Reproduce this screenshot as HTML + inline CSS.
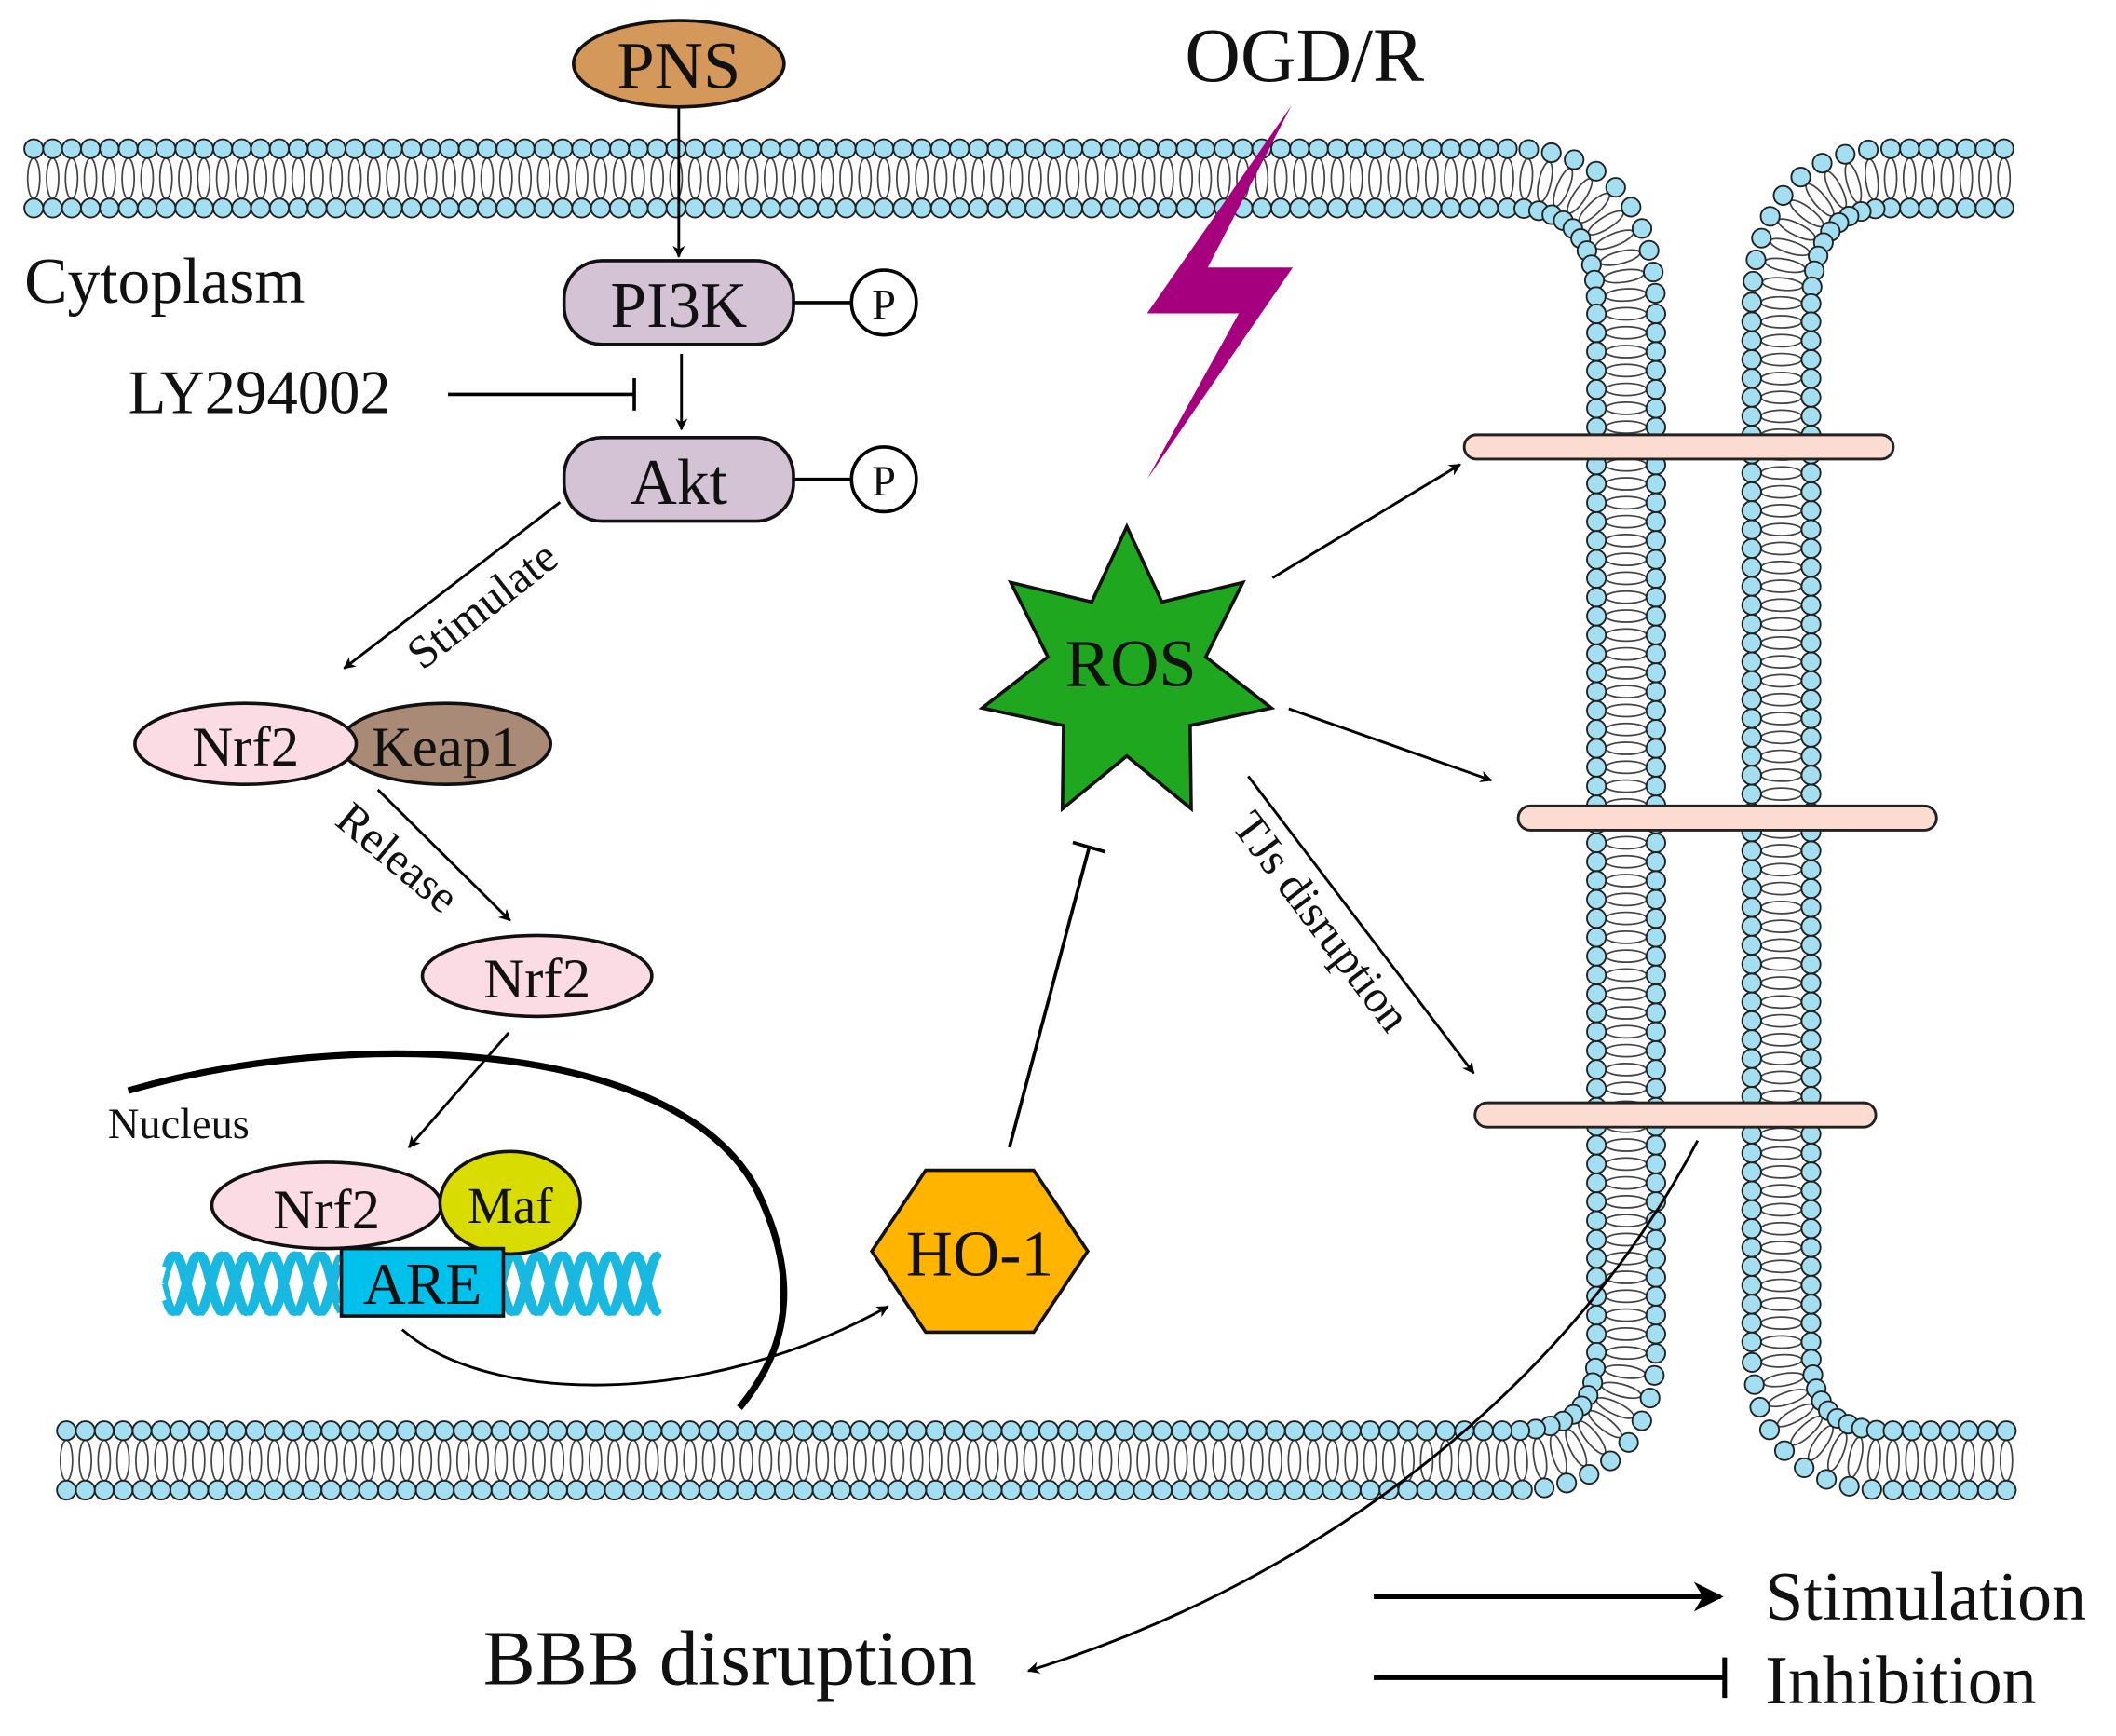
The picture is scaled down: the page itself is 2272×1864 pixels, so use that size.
<!DOCTYPE html>
<html><head><meta charset="utf-8"><style>
html,body{margin:0;padding:0;background:#fff;}
svg{display:block;}
text{font-family:"Liberation Serif",serif;fill:#111;}
</style></head><body>
<svg id="s" width="2272" height="1864" viewBox="0 0 1568 1286" xmlns="http://www.w3.org/2000/svg">
<defs>
<marker id="ar" viewBox="0 0 10 10" refX="9" refY="5" markerWidth="9" markerHeight="9" markerUnits="userSpaceOnUse" orient="auto"><path d="M0,0 L10,5 L0,10 L3,5 z" fill="#000"/></marker>
<marker id="ar2" viewBox="0 0 10 10" refX="9" refY="5" markerWidth="22" markerHeight="22" markerUnits="userSpaceOnUse" orient="auto"><path d="M0,0 L10,5 L0,10 L3,5 z" fill="#000"/></marker>
</defs>
<g id="mem"></g>
<rect x="1085" y="322" width="318" height="18" rx="9" fill="#fcdcd0" stroke="#222" stroke-width="2"/>
<rect x="1125" y="597" width="310" height="18" rx="9" fill="#fcdcd0" stroke="#222" stroke-width="2"/>
<rect x="1093" y="817" width="297" height="18" rx="9" fill="#fcdcd0" stroke="#222" stroke-width="2"/>

<text x="878" y="60" font-size="57">OGD/R</text>
<polygon points="957,78 850,232 918,232 850,355 958,198 895,198" fill="#a6007f"/>

<ellipse cx="503" cy="47" rx="78" ry="32" fill="#d4985a" stroke="#111" stroke-width="2.5"/>
<text x="503" y="65" font-size="50" text-anchor="middle">PNS</text>
<line x1="503" y1="80" x2="503" y2="190" stroke="#000" stroke-width="2" marker-end="url(#ar)"/>

<text x="18" y="224" font-size="48">Cytoplasm</text>

<rect x="418" y="193" width="170" height="62" rx="28" fill="#d4c3d4" stroke="#111" stroke-width="2.5"/>
<text x="503" y="242" font-size="48" text-anchor="middle">PI3K</text>
<line x1="588" y1="224" x2="631" y2="224" stroke="#000" stroke-width="2.5"/>
<circle cx="655" cy="224" r="24" fill="#fff" stroke="#000" stroke-width="2.5"/>
<text x="655" y="236" font-size="32" text-anchor="middle">P</text>

<text x="95" y="306" font-size="46">LY294002</text>
<line x1="332" y1="292" x2="470" y2="292" stroke="#000" stroke-width="2.5"/>
<line x1="470" y1="280" x2="470" y2="304" stroke="#000" stroke-width="2.5"/>
<line x1="505" y1="262" x2="505" y2="318" stroke="#000" stroke-width="2" marker-end="url(#ar)"/>

<rect x="418" y="324" width="170" height="62" rx="28" fill="#d4c3d4" stroke="#111" stroke-width="2.5"/>
<text x="503" y="373" font-size="48" text-anchor="middle">Akt</text>
<line x1="588" y1="355" x2="631" y2="355" stroke="#000" stroke-width="2.5"/>
<circle cx="655" cy="355" r="24" fill="#fff" stroke="#000" stroke-width="2.5"/>
<text x="655" y="367" font-size="32" text-anchor="middle">P</text>

<line x1="415" y1="372" x2="255" y2="495" stroke="#000" stroke-width="2" marker-end="url(#ar)"/>
<text x="0" y="0" font-size="34" transform="translate(313,497) rotate(-38)">Stimulate</text>

<ellipse cx="330" cy="551" rx="78" ry="30" fill="#a88a76" stroke="#111" stroke-width="2.5"/>
<ellipse cx="182" cy="551" rx="82" ry="30" fill="#fcdce4" stroke="#111" stroke-width="2.5"/>
<text x="182" y="567" font-size="42" text-anchor="middle">Nrf2</text>
<text x="330" y="567" font-size="42" text-anchor="middle">Keap1</text>

<line x1="280" y1="585" x2="378" y2="682" stroke="#000" stroke-width="2" marker-end="url(#ar)"/>
<text x="0" y="0" font-size="34" transform="translate(247,610) rotate(40)">Release</text>

<ellipse cx="398" cy="723" rx="85" ry="30" fill="#fcdce4" stroke="#111" stroke-width="2.5"/>
<text x="398" y="739" font-size="42" text-anchor="middle">Nrf2</text>
<line x1="377" y1="765" x2="303" y2="850" stroke="#000" stroke-width="2" marker-end="url(#ar)"/>

<path d="M95,808 C260,760 500,770 560,880 C600,960 575,1010 548,1043" fill="none" stroke="#000" stroke-width="5"/>
<text x="80" y="843" font-size="32">Nucleus</text>

<g id="dna"></g>
<ellipse cx="242" cy="893" rx="85" ry="32" fill="#fcdce4" stroke="#111" stroke-width="2.5"/>
<text x="242" y="910" font-size="42" text-anchor="middle">Nrf2</text>
<ellipse cx="378" cy="891" rx="52" ry="38" fill="#d8dc00" stroke="#111" stroke-width="2.5"/>
<text x="378" y="906" font-size="38" text-anchor="middle">Maf</text>
<rect x="253" y="925" width="120" height="50" fill="#00c0ec" stroke="#111" stroke-width="2.5"/>
<text x="313" y="966" font-size="44" text-anchor="middle">ARE</text>

<path d="M298,985 C360,1040 520,1045 658,968" fill="none" stroke="#000" stroke-width="2" marker-end="url(#ar)"/>

<polygon points="646,927 686,867 766,867 806,927 766,987 686,987" fill="#ffb400" stroke="#111" stroke-width="2.5"/>
<text x="726" y="945" font-size="48" text-anchor="middle">HO-1</text>

<line x1="748" y1="850" x2="807" y2="628" stroke="#000" stroke-width="2.5"/>
<line x1="795" y1="624" x2="819" y2="631" stroke="#000" stroke-width="2.5"/>

<polygon id="ros" fill="#1fa71f" stroke="#111" stroke-width="2.5"/>
<text x="838" y="508" font-size="50" text-anchor="middle">ROS</text>

<line x1="943" y1="428" x2="1082" y2="344" stroke="#000" stroke-width="2" marker-end="url(#ar)"/>
<line x1="955" y1="525" x2="1105" y2="578" stroke="#000" stroke-width="2" marker-end="url(#ar)"/>
<line x1="925" y1="575" x2="1092" y2="795" stroke="#000" stroke-width="2" marker-end="url(#ar)"/>
<text x="0" y="0" font-size="34" transform="translate(912,612) rotate(53)">TJs disruption</text>

<path d="M1258,845 C1150,1050 950,1180 762,1238" fill="none" stroke="#000" stroke-width="2" marker-end="url(#ar)"/>
<text x="358" y="1248" font-size="58">BBB disruption</text>

<line x1="1018" y1="1183" x2="1275" y2="1183" stroke="#000" stroke-width="3.5" marker-end="url(#ar2)"/>
<text x="1308" y="1200" font-size="51">Stimulation</text>
<line x1="1018" y1="1243" x2="1278" y2="1243" stroke="#000" stroke-width="3.5"/>
<line x1="1278" y1="1228" x2="1278" y2="1258" stroke="#000" stroke-width="3.5"/>
<text x="1308" y="1262" font-size="51">Inhibition</text>
</svg>
<script>
(function(){
var NS="http://www.w3.org/2000/svg";
var mem=document.getElementById("mem");
function el(t,a,p){var e=document.createElementNS(NS,t);for(var k in a)e.setAttribute(k,a[k]);(p||mem).appendChild(e);return e;}
var paths=["M18,132 H1120 Q1205,132 1205,230 V1000 Q1205,1082 1120,1082 H40",
"M1492,132 H1400 Q1320,132 1320,230 V1000 Q1320,1082 1400,1082 H1502"];
var tails=el("g",{}),heads=el("g",{});
paths.forEach(function(d){
 var p=el("path",{d:d,fill:"none",stroke:"none"});
 var L=p.getTotalLength();
 for(var s=7;s<L-3;s+=14){
  var a=p.getPointAtLength(s),b=p.getPointAtLength(Math.min(L,s+0.5));
  var dx=b.x-a.x,dy=b.y-a.y,n=Math.hypot(dx,dy)||1;dx/=n;dy/=n;
  var nx=-dy,ny=dx;
  var ang=Math.atan2(ny,nx)*180/Math.PI;
  el("ellipse",{cx:a.x,cy:a.y,rx:15,ry:4.5,fill:"#fff",stroke:"#444","stroke-width":1.2,transform:"rotate("+ang+" "+a.x+" "+a.y+")"},tails);
  [22,-22].forEach(function(o){
   el("circle",{cx:a.x+nx*o,cy:a.y+ny*o,r:7,fill:"#a3dff0",stroke:"#222","stroke-width":1.3},heads);
  });
 }
});
var cx=835,cy=500,pts=[];
for(var i=0;i<14;i++){var r=i%2?60:110;var t=-Math.PI/2+i*Math.PI/7;pts.push((cx+r*Math.cos(t)).toFixed(1)+","+(cy+r*Math.sin(t)).toFixed(1));}
document.getElementById("ros").setAttribute("points",pts.join(" "));
var g=document.getElementById("dna");
function wave(x0,x1,ph){var d="";for(var x=x0;x<=x1;x+=2){var y=951+22*Math.sin((x-x0)/18*Math.PI+ph);d+=(x==x0?"M":"L")+x+","+y.toFixed(1);}return d;}
[[122,253],[373,490]].forEach(function(r){
 [0,Math.PI,0.6,Math.PI+0.6].forEach(function(ph){
  el("path",{d:wave(r[0],r[1],ph),fill:"none",stroke:"#18b8e0","stroke-width":4},g);
 });
});
})();
</script>
</body></html>
